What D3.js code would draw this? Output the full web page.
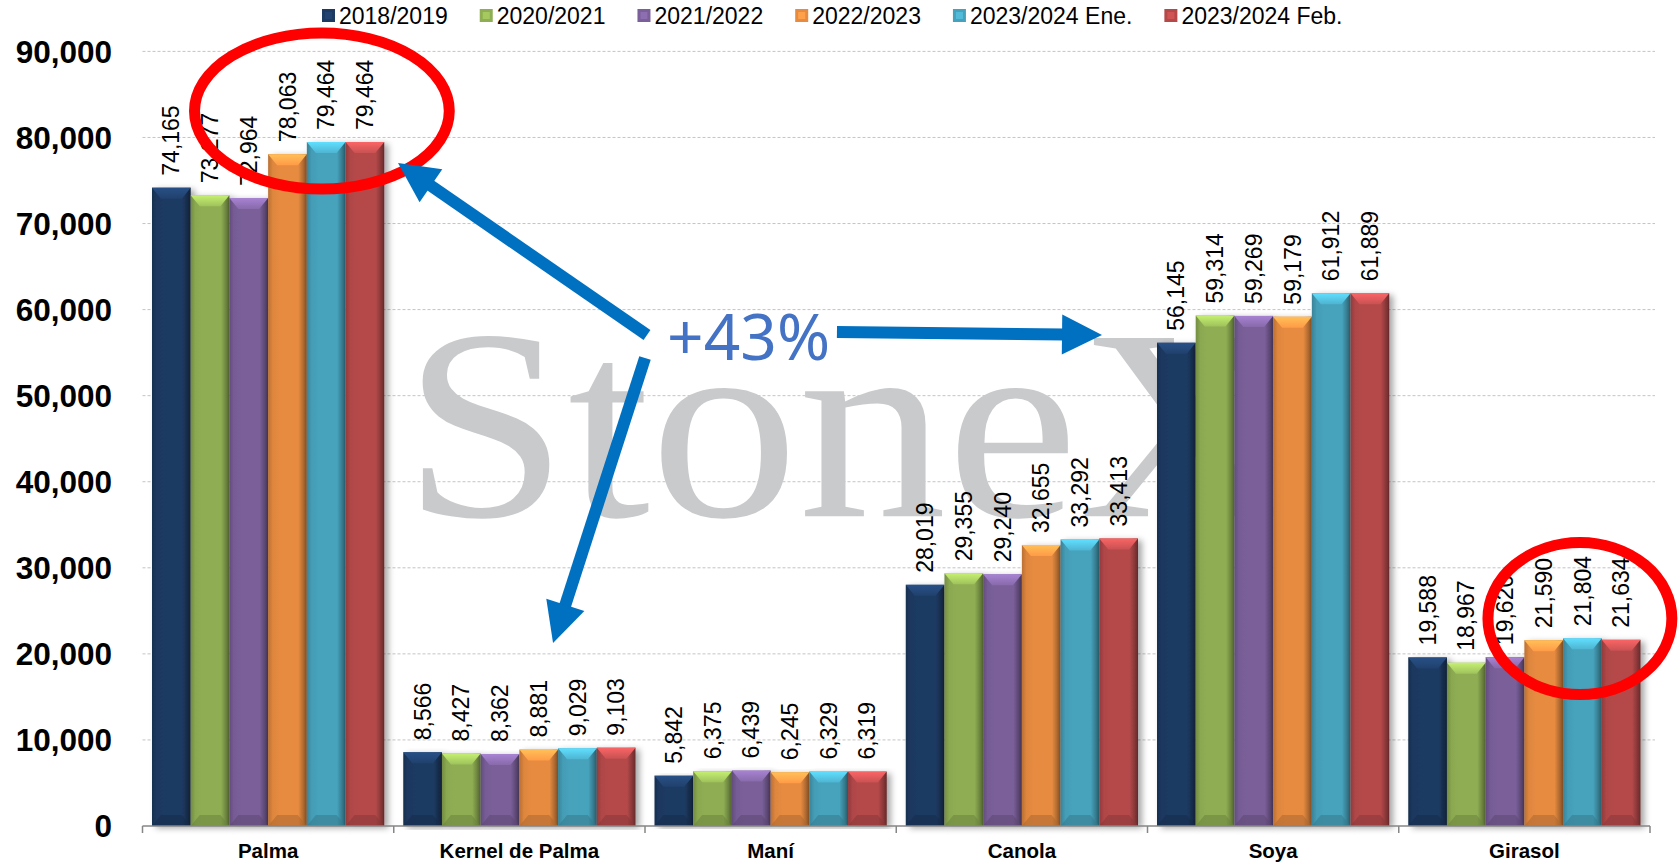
<!DOCTYPE html>
<html>
<head>
<meta charset="utf-8">
<script src="https://cdn.jsdelivr.net/npm/d3@7"></script>
<style>
  body { margin: 0; background: #fff; }
  svg { display: block; font-family: "Liberation Sans", Arial, sans-serif; }
</style>
</head>
<body>
<div id="chart"></div>
<script>
// vegetable oil production by crop, thousand tonnes

var categories = ["Palma", "Kernel de Palma", "Maní", "Canola", "Soya", "Girasol"]
var seasons = ["2018/2019", "2020/2021", "2021/2022", "2022/2023", "2023/2024 Ene.", "2023/2024 Feb."]
var colors = ["#1d3a62", "#8fae53", "#7a5f99", "#e68b40", "#46a2bc", "#b5494a"]

var v2018 = [74165, 8566, 5842, 28019, 56145, 19588]
var v2020 = [73277, 8427, 6375, 29355, 59314, 18967]
var v2021 = [72964, 8362, 6439, 29240, 59269, 19620]
var v2022 = [78063, 8881, 6245, 32655, 59179, 21590]
var v2024ene = [79464, 9029, 6329, 33292, 61912, 21804]
var v2024feb = [79464, 9103, 6319, 33413, 61889, 21634]

var yTicks = [0, 10000, 20000, 30000, 40000, 50000, 60000, 70000, 80000, 90000]

var series = [v2018, v2020, v2021, v2022, v2024ene, v2024feb]

var width = 1680, height = 866
var plotLeft = 142.5, plotRight = 1650, plotTop = 51.4, plotBottom = 826

var svg = d3.select("#chart").append("svg")
  .attr("width", width)
  .attr("height", height)

var defs = svg.append("defs")

var shadow = defs.append("filter").attr("id", "shadow")
  .attr("x", "-20%").attr("y", "-5%").attr("width", "160%").attr("height", "110%")
shadow.append("feDropShadow")
  .attr("dx", 4).attr("dy", 2).attr("stdDeviation", 3)
  .attr("flood-color", "#000").attr("flood-opacity", 0.35)

// side shading for every series colour
colors.forEach(function(c, i) {
  var base = d3.color(c)
  var grad = defs.append("linearGradient").attr("id", "side" + i)
    .attr("x1", "0%").attr("x2", "100%").attr("y1", "0%").attr("y2", "0%")
  grad.append("stop").attr("offset", "0%").attr("stop-color", base.darker(0.6))
  grad.append("stop").attr("offset", "12%").attr("stop-color", base.darker(0.1))
  grad.append("stop").attr("offset", "30%").attr("stop-color", base)
  grad.append("stop").attr("offset", "78%").attr("stop-color", base)
  grad.append("stop").attr("offset", "90%").attr("stop-color", base.darker(0.7))
  grad.append("stop").attr("offset", "100%").attr("stop-color", base.darker(1.6))

  var top = defs.append("linearGradient").attr("id", "top" + i)
    .attr("x1", "0%").attr("x2", "0%").attr("y1", "0%").attr("y2", "100%")
  top.append("stop").attr("offset", "0%").attr("stop-color", base.brighter(0.9))
  top.append("stop").attr("offset", "100%").attr("stop-color", base.brighter(0.3))
})

var x0 = d3.scaleBand()
  .domain(categories)
  .range([plotLeft, plotRight])

var x1 = d3.scaleBand()
  .domain(seasons)
  .range([9.5, x0.bandwidth() - 9.5])

var y = d3.scaleLinear()
  .domain([0, 90000])
  .range([plotBottom, plotTop])

// grid
svg.append("g").selectAll("line")
  .data(yTicks.slice(1))
  .enter().append("line")
    .attr("x1", plotLeft)
    .attr("x2", plotRight + 5)
    .attr("y1", function(d) { return y(d) })
    .attr("y2", function(d) { return y(d) })
    .attr("stroke", "#c4c4c4")
    .attr("stroke-width", 1)
    .attr("stroke-dasharray", "3,2")

svg.append("g").selectAll("text")
  .data(yTicks)
  .enter().append("text")
    .attr("x", 112)
    .attr("y", function(d) { return y(d) })
    .attr("dy", "0.36em")
    .attr("text-anchor", "end")
    .attr("font-size", 31.5)
    .attr("font-weight", "bold")
    .attr("fill", "#000")
    .text(function(d) { return d3.format(",")(d) })

// watermark
svg.append("text")
  .attr("transform", "translate(" + (x0("Palma") + x0.bandwidth() * 1.036) + "," + y(36000) + ") scale(1.09,1)")
  .attr("font-family", "'Liberation Serif', 'Times New Roman', serif")
  .attr("font-size", 272)
  .attr("fill", "#c9cacc")
  .text("StoneX")

// bars
var groups = svg.append("g").selectAll("g")
  .data(categories)
  .enter().append("g")
    .attr("transform", function(d) { return "translate(" + x0(d) + ",0)" })

var bars = groups.selectAll("g.bar")
  .data(function(cat, ci) {
    return seasons.map(function(s, si) { return {cat: cat, season: s, si: si, value: series[si][ci]} })
  })
  .enter().append("g")
    .attr("class", "bar")

bars.append("rect")
  .attr("x", function(d) { return x1(d.season) })
  .attr("y", function(d) { return y(d.value) })
  .attr("width", x1.bandwidth())
  .attr("height", function(d) { return plotBottom - y(d.value) })
  .attr("fill", function(d) { return "url(#side" + d.si + ")" })
  .attr("filter", "url(#shadow)")

function bevel(d, bottom) {
  var bx = x1(d.season), w = x1.bandwidth()
  var yt = y(d.value), h = plotBottom - yt
  var b = Math.min(11, h / 2), s = Math.min(9, w / 3)
  if (!bottom)
    return [[bx, yt], [bx + w, yt], [bx + w - s, yt + b], [bx + s, yt + b]].join(" ")
  return [[bx, plotBottom], [bx + w, plotBottom], [bx + w - s, plotBottom - b], [bx + s, plotBottom - b]].join(" ")
}

bars.append("polygon")
  .attr("points", function(d) { return bevel(d, false) })
  .attr("fill", function(d) { return "url(#top" + d.si + ")" })

bars.append("polygon")
  .attr("points", function(d) { return bevel(d, true) })
  .attr("fill", function(d) { return d3.color(colors[d.si]).darker(0.8) })
  .attr("opacity", 0.55)

// value labels
bars.append("text")
  .attr("transform", function(d) {
    return "translate(" + (x1(d.season) + x1.bandwidth() / 2) + "," + (y(d.value) - 12) + ") rotate(-90)"
  })
  .attr("dy", "0.35em")
  .attr("font-size", 23)
  .attr("fill", "#000")
  .text(function(d) { return d3.format(",")(d.value) })

// x axis
var xAxis = svg.append("g")
svg.append("line")
  .attr("x1", plotLeft).attr("x2", plotRight)
  .attr("y1", plotBottom).attr("y2", plotBottom)
  .attr("stroke", "#868686").attr("stroke-width", 1.5)

xAxis.selectAll("line")
  .data(categories.concat(["end"]))
  .enter().append("line")
    .attr("x1", function(d, i) { return plotLeft + i * x0.bandwidth() })
    .attr("x2", function(d, i) { return plotLeft + i * x0.bandwidth() })
    .attr("y1", plotBottom)
    .attr("y2", plotBottom + 7)
    .attr("stroke", "#868686").attr("stroke-width", 1.5)

xAxis.selectAll("text")
  .data(categories)
  .enter().append("text")
    .attr("x", function(d) { return x0(d) + x0.bandwidth() / 2 })
    .attr("y", 858)
    .attr("text-anchor", "middle")
    .attr("font-size", 20.5)
    .attr("font-weight", "bold")
    .text(function(d) { return d })

// legend
var legend = svg.append("g")
var lx = 322
seasons.forEach(function(s, i) {
  var item = legend.append("g")
  item.append("rect")
    .attr("x", lx).attr("y", 9)
    .attr("width", 13).attr("height", 13)
    .attr("fill", colors[i])
  item.append("rect")
    .attr("x", lx + 3).attr("y", 12)
    .attr("width", 7).attr("height", 7)
    .attr("fill", d3.color(colors[i]).brighter(0.4))
  var t = item.append("text")
    .attr("x", lx + 17).attr("y", 24)
    .attr("font-size", 23)
    .text(s)
  lx = lx + 17 + t.node().getComputedTextLength() + 32
})

// annotations
var bw = x0.bandwidth()
function px(frac) { return plotLeft + frac * bw }

var notes = svg.append("g")

notes.append("ellipse")
  .attr("cx", px(0.714)).attr("cy", y(83070))
  .attr("rx", 0.507 * bw).attr("ry", 78)
  .attr("fill", "none").attr("stroke", "#ff0000").attr("stroke-width", 11)

notes.append("ellipse")
  .attr("cx", px(5.721)).attr("cy", y(24100))
  .attr("rx", 0.366 * bw).attr("ry", 76)
  .attr("fill", "none").attr("stroke", "#ff0000").attr("stroke-width", 11)

function arrow(ax, ay, bx, by) {
  var dx = bx - ax, dy = by - ay, len = Math.sqrt(dx * dx + dy * dy)
  var ux = dx / len, uy = dy / len
  var head = 40, half = 20
  var hx = bx - ux * head, hy = by - uy * head
  notes.append("line")
    .attr("x1", ax).attr("y1", ay).attr("x2", hx + ux * 2).attr("y2", hy + uy * 2)
    .attr("stroke", "#0070c0").attr("stroke-width", 12)
  notes.append("polygon")
    .attr("points", [[bx, by], [hx - uy * half, hy + ux * half], [hx + uy * half, hy - ux * half]].join(" "))
    .attr("fill", "#0070c0")
}

arrow(px(2.008), y(57050), px(1.017), y(77030))
arrow(px(2.764), y(57400), px(3.819), y(57050))
arrow(px(2.0), y(54380), px(1.634), y(21260))

notes.append("text")
  .attr("x", px(2.088)).attr("y", y(54140))
  .attr("font-family", "'Noto Sans', 'Open Sans', sans-serif")
  .attr("font-size", 64)
  .attr("fill", "#4472c4")
  .text("+43%")
</script>
</body>
</html>
